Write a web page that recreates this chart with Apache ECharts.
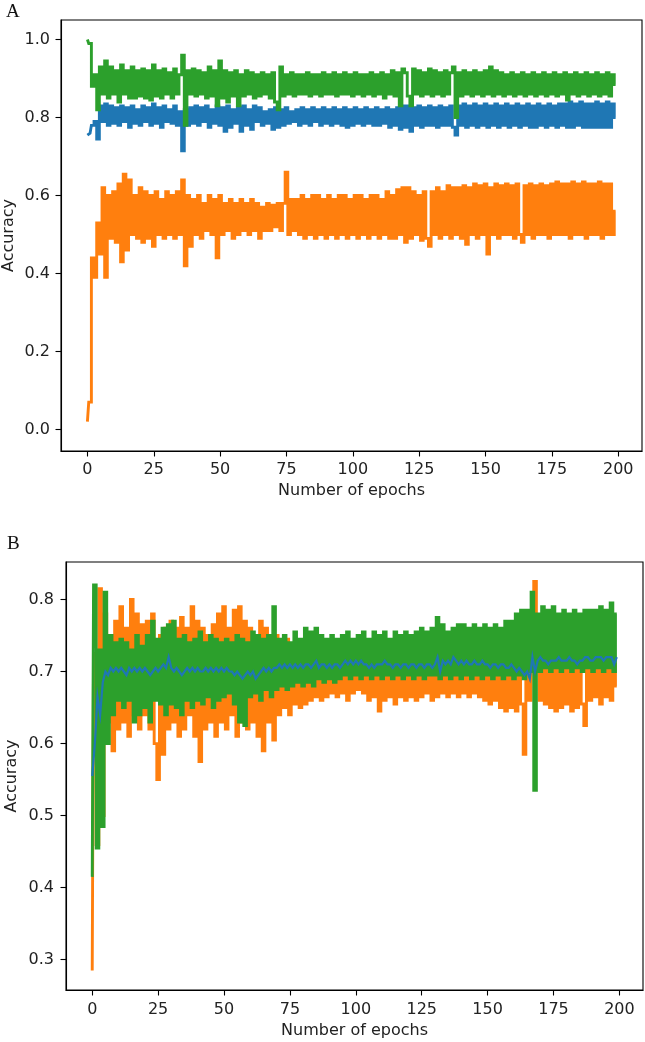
<!DOCTYPE html>
<html><head><meta charset="utf-8">
<script src="https://cdn.jsdelivr.net/npm/echarts@6/dist/echarts.min.js"></script>
<style>html,body{margin:0;padding:0;background:#fff}#c{width:645px;height:1042px}</style>
</head><body><div id="c"></div>
<script>
// ---------- tick labels ----------
const epochTicks = [0, 25, 50, 75, 100, 125, 150, 175, 200];
const yTicksA = [0.0, 0.2, 0.4, 0.6, 0.8, 1.0];
const yTicksB = [0.3, 0.4, 0.5, 0.6, 0.7, 0.8];
const panelLabels = ['A', 'B'];
const xTitle = 'Number of epochs';
const yTitle = 'Accuracy';

// ---------- Panel A (epoch 0..199) ----------
const aBlue = [
0.755,0.76,0.78,0.79,0.745,0.83,0.79,0.835,0.78,0.83,
0.785,0.825,0.78,0.83,0.79,0.825,0.775,0.83,0.785,0.82,
0.78,0.83,0.79,0.825,0.78,0.835,0.785,0.825,0.775,0.83,
0.79,0.82,0.785,0.83,0.78,0.815,0.715,0.82,0.78,0.825,
0.785,0.83,0.78,0.825,0.79,0.83,0.775,0.82,0.785,0.83,
0.78,0.825,0.765,0.83,0.775,0.82,0.785,0.825,0.765,0.83,
0.78,0.82,0.77,0.83,0.79,0.825,0.78,0.815,0.785,0.82,
0.77,0.825,0.775,0.82,0.78,0.825,0.785,0.815,0.79,0.82,
0.78,0.825,0.785,0.82,0.78,0.825,0.79,0.82,0.78,0.825,
0.785,0.82,0.78,0.825,0.785,0.82,0.78,0.825,0.775,0.82,
0.78,0.825,0.785,0.82,0.78,0.825,0.785,0.82,0.78,0.825,
0.78,0.82,0.785,0.825,0.775,0.82,0.78,0.825,0.77,0.83,
0.775,0.83,0.765,0.825,0.78,0.83,0.775,0.825,0.78,0.83,
0.78,0.825,0.775,0.83,0.78,0.825,0.78,0.83,0.775,0.755,
0.83,0.78,0.835,0.775,0.83,0.78,0.835,0.775,0.83,0.78,
0.835,0.775,0.83,0.78,0.835,0.775,0.83,0.78,0.835,0.775,
0.83,0.78,0.835,0.775,0.83,0.78,0.835,0.775,0.83,0.775,
0.835,0.78,0.83,0.775,0.835,0.78,0.83,0.775,0.835,0.78,
0.835,0.775,0.84,0.775,0.835,0.78,0.84,0.775,0.835,0.775,
0.835,0.775,0.84,0.775,0.835,0.775,0.84,0.775,0.835,0.80
];
const aOrange = [
0.02,0.07,0.44,0.39,0.53,0.45,0.62,0.39,0.60,0.49,
0.61,0.48,0.63,0.43,0.655,0.46,0.64,0.50,0.60,0.49,
0.62,0.48,0.61,0.49,0.60,0.47,0.61,0.50,0.59,0.49,
0.61,0.50,0.60,0.49,0.61,0.50,0.64,0.42,0.60,0.47,
0.59,0.50,0.60,0.49,0.58,0.51,0.60,0.50,0.59,0.44,
0.60,0.50,0.58,0.51,0.59,0.49,0.58,0.50,0.59,0.51,
0.58,0.50,0.59,0.51,0.58,0.49,0.57,0.51,0.58,0.51,
0.575,0.52,0.58,0.51,0.58,0.66,0.50,0.59,0.51,0.59,
0.50,0.60,0.49,0.59,0.50,0.60,0.49,0.60,0.50,0.59,
0.49,0.60,0.50,0.59,0.49,0.60,0.50,0.60,0.49,0.59,
0.50,0.60,0.49,0.60,0.50,0.59,0.49,0.60,0.50,0.60,
0.49,0.59,0.50,0.61,0.49,0.60,0.49,0.615,0.50,0.62,
0.48,0.62,0.49,0.61,0.50,0.60,0.485,0.61,0.49,0.47,
0.61,0.50,0.62,0.49,0.61,0.50,0.625,0.49,0.62,0.50,
0.62,0.49,0.625,0.475,0.62,0.50,0.63,0.49,0.625,0.50,
0.63,0.45,0.62,0.50,0.63,0.49,0.625,0.50,0.63,0.50,
0.625,0.49,0.63,0.50,0.48,0.625,0.50,0.63,0.49,0.625,
0.50,0.63,0.50,0.625,0.49,0.63,0.50,0.635,0.50,0.63,
0.50,0.63,0.49,0.635,0.50,0.63,0.50,0.635,0.49,0.63,
0.50,0.63,0.50,0.635,0.49,0.63,0.50,0.63,0.50,0.56
];
const aGreen = [
1.0,0.99,0.88,0.91,0.82,0.93,0.86,0.945,0.85,0.93,
0.86,0.92,0.84,0.935,0.86,0.92,0.85,0.93,0.85,0.92,
0.855,0.925,0.85,0.92,0.845,0.935,0.855,0.92,0.85,0.925,
0.86,0.915,0.85,0.925,0.86,0.91,0.96,0.78,0.92,0.86,
0.925,0.855,0.92,0.86,0.915,0.85,0.93,0.855,0.92,0.83,
0.945,0.85,0.92,0.84,0.915,0.855,0.92,0.83,0.91,0.855,
0.92,0.86,0.915,0.85,0.91,0.855,0.915,0.86,0.91,0.85,
0.915,0.84,0.82,0.93,0.855,0.91,0.86,0.915,0.855,0.91,
0.86,0.91,0.86,0.915,0.855,0.91,0.86,0.91,0.855,0.915,
0.86,0.91,0.86,0.915,0.855,0.91,0.86,0.915,0.86,0.91,
0.855,0.915,0.86,0.91,0.855,0.91,0.86,0.915,0.855,0.91,
0.86,0.915,0.85,0.91,0.86,0.92,0.855,0.915,0.83,0.925,
0.915,0.855,0.83,0.925,0.86,0.92,0.855,0.915,0.86,0.925,
0.855,0.92,0.86,0.915,0.855,0.92,0.86,0.915,0.93,0.80,
0.915,0.855,0.92,0.86,0.915,0.855,0.92,0.86,0.915,0.855,
0.92,0.86,0.93,0.855,0.92,0.86,0.915,0.855,0.91,0.86,
0.915,0.855,0.91,0.86,0.915,0.855,0.91,0.86,0.915,0.855,
0.91,0.86,0.915,0.855,0.91,0.86,0.915,0.855,0.91,0.86,
0.915,0.845,0.91,0.86,0.915,0.855,0.91,0.86,0.915,0.855,
0.91,0.86,0.915,0.855,0.91,0.86,0.915,0.855,0.91,0.885
];

// ---------- Panel B (epoch 0..199) ----------
const bBlue = [
0.555,0.60,0.665,0.64,0.685,0.70,0.695,0.705,0.70,0.705,
0.70,0.705,0.70,0.695,0.705,0.70,0.705,0.70,0.705,0.70,
0.705,0.70,0.695,0.70,0.705,0.70,0.705,0.71,0.705,0.72,
0.705,0.70,0.705,0.70,0.695,0.70,0.705,0.70,0.705,0.70,
0.705,0.70,0.70,0.705,0.70,0.705,0.70,0.705,0.70,0.705,
0.70,0.705,0.70,0.70,0.695,0.70,0.695,0.69,0.695,0.70,
0.695,0.70,0.69,0.695,0.70,0.705,0.70,0.705,0.70,0.705,
0.705,0.71,0.705,0.71,0.705,0.71,0.705,0.71,0.705,0.71,
0.705,0.71,0.71,0.705,0.71,0.715,0.705,0.71,0.71,0.705,
0.71,0.705,0.71,0.71,0.705,0.71,0.715,0.71,0.715,0.71,
0.715,0.71,0.715,0.71,0.71,0.705,0.71,0.705,0.71,0.71,
0.71,0.715,0.71,0.71,0.705,0.71,0.71,0.705,0.71,0.71,
0.705,0.71,0.71,0.705,0.71,0.71,0.705,0.71,0.71,0.705,
0.71,0.72,0.70,0.715,0.71,0.715,0.71,0.72,0.715,0.71,
0.715,0.71,0.715,0.71,0.71,0.715,0.71,0.71,0.715,0.71,
0.71,0.705,0.71,0.71,0.705,0.71,0.71,0.705,0.705,0.71,
0.705,0.70,0.705,0.70,0.695,0.70,0.69,0.72,0.70,0.715,
0.72,0.715,0.715,0.71,0.715,0.715,0.715,0.72,0.715,0.715,
0.715,0.72,0.715,0.715,0.71,0.715,0.715,0.72,0.72,0.715,
0.715,0.72,0.72,0.72,0.715,0.72,0.72,0.72,0.71,0.72
];
const bOrange = [
0.285,0.725,0.46,0.815,0.50,0.78,0.63,0.75,0.59,0.77,
0.62,0.79,0.63,0.76,0.61,0.80,0.64,0.78,0.62,0.765,
0.64,0.77,0.62,0.78,0.60,0.55,0.75,0.585,0.76,0.62,
0.77,0.63,0.76,0.61,0.775,0.62,0.76,0.64,0.79,0.61,
0.77,0.575,0.76,0.62,0.75,0.63,0.765,0.61,0.78,0.63,
0.79,0.62,0.76,0.64,0.785,0.61,0.79,0.63,0.77,0.62,
0.76,0.63,0.75,0.61,0.77,0.59,0.76,0.63,0.745,0.605,
0.75,0.64,0.74,0.65,0.745,0.64,0.735,0.655,0.74,0.65,
0.73,0.655,0.735,0.66,0.725,0.665,0.73,0.66,0.72,0.665,
0.715,0.67,0.72,0.665,0.71,0.67,0.715,0.66,0.71,0.67,
0.71,0.675,0.715,0.67,0.71,0.66,0.715,0.665,0.71,0.645,
0.71,0.66,0.715,0.665,0.71,0.655,0.715,0.665,0.71,0.66,
0.715,0.665,0.71,0.66,0.715,0.665,0.71,0.67,0.715,0.66,
0.71,0.665,0.715,0.67,0.705,0.665,0.715,0.67,0.71,0.665,
0.715,0.67,0.71,0.665,0.715,0.67,0.71,0.665,0.715,0.66,
0.71,0.655,0.715,0.66,0.71,0.65,0.715,0.645,0.71,0.65,
0.715,0.645,0.71,0.655,0.585,0.71,0.66,0.705,0.825,0.70,
0.66,0.715,0.655,0.71,0.65,0.715,0.645,0.71,0.65,0.715,
0.655,0.71,0.645,0.715,0.65,0.71,0.655,0.625,0.715,0.66,
0.71,0.665,0.715,0.655,0.71,0.665,0.715,0.66,0.71,0.68
];
const bGreen = [
0.415,0.82,0.455,0.73,0.485,0.81,0.60,0.75,0.64,0.74,
0.66,0.745,0.65,0.74,0.66,0.73,0.63,0.75,0.64,0.735,
0.65,0.75,0.63,0.77,0.66,0.745,0.655,0.76,0.64,0.765,
0.655,0.77,0.65,0.745,0.64,0.75,0.66,0.74,0.65,0.745,
0.66,0.755,0.655,0.74,0.665,0.75,0.65,0.745,0.66,0.74,
0.665,0.745,0.67,0.74,0.655,0.75,0.63,0.745,0.625,0.74,
0.665,0.755,0.67,0.75,0.66,0.745,0.675,0.75,0.665,0.79,
0.675,0.745,0.68,0.75,0.675,0.74,0.68,0.755,0.685,0.745,
0.68,0.76,0.685,0.755,0.68,0.76,0.69,0.75,0.685,0.745,
0.69,0.75,0.685,0.745,0.69,0.75,0.695,0.755,0.69,0.745,
0.695,0.75,0.69,0.755,0.695,0.745,0.69,0.755,0.695,0.75,
0.69,0.755,0.695,0.745,0.69,0.755,0.695,0.75,0.69,0.755,
0.695,0.75,0.69,0.755,0.695,0.76,0.69,0.755,0.695,0.76,
0.695,0.775,0.69,0.765,0.695,0.755,0.69,0.76,0.695,0.765,
0.69,0.765,0.695,0.76,0.69,0.765,0.695,0.76,0.69,0.765,
0.695,0.76,0.69,0.765,0.695,0.76,0.69,0.77,0.695,0.77,
0.69,0.78,0.695,0.785,0.69,0.785,0.70,0.81,0.535,0.78,
0.70,0.79,0.705,0.785,0.70,0.79,0.705,0.78,0.70,0.785,
0.705,0.78,0.70,0.785,0.705,0.78,0.70,0.785,0.705,0.785,
0.70,0.785,0.705,0.79,0.70,0.785,0.705,0.795,0.70,0.78
];

const C_BLUE = '#1f77b4', C_ORANGE = '#ff7f0e', C_GREEN = '#2ca02c';
const FONT = 'DejaVu Sans';
const toXY = arr => arr.map((v, i) => [i, v]);

function xAxisFor(gi, lm, ng) {
  return {
    gridIndex: gi, type: 'value', min: -9.95, max: 208.95,
    splitLine: { show: false },
    axisLine: { show: true, onZero: false, lineStyle: { color: '#000', width: 1.1 } },
    axisTick: { show: true, customValues: epochTicks, length: 5.5, lineStyle: { color: '#000', width: 1.1 } },
    axisLabel: { customValues: epochTicks, fontSize: 16, fontFamily: FONT, color: '#222', margin: lm },
    name: xTitle, nameLocation: 'middle', nameGap: ng,
    nameTextStyle: { fontSize: 16, fontFamily: FONT, color: '#222' }
  };
}
function yAxisFor(gi, min, max, ticks, margin, gap) {
  return {
    gridIndex: gi, type: 'value', min: min, max: max,
    splitLine: { show: false },
    axisLine: { show: true, onZero: false, lineStyle: { color: '#000', width: 1.1 } },
    axisTick: { show: true, customValues: ticks, length: 5.5, lineStyle: { color: '#000', width: 1.1 } },
    axisLabel: { customValues: ticks, fontSize: 16, fontFamily: FONT, color: '#222', margin: margin,
                 formatter: v => Number(v).toFixed(1) },
    name: yTitle, nameLocation: 'middle', nameGap: gap, nameRotate: 90, nameMoveOverlap: false,
    nameTextStyle: { fontSize: 16, fontFamily: FONT, color: '#222' }
  };
}
function line(name, data, color, xi, stepped, w, z) {
  return {
    name: name, type: 'line', xAxisIndex: xi, yAxisIndex: xi, data: toXY(data),
    step: stepped ? 'middle' : false, symbol: 'none', showSymbol: false,
    lineStyle: { color: color, width: w, join: 'miter', cap: 'butt' }, itemStyle: { color: color },
    animation: false, z: z, clip: true
  };
}

const chart = echarts.init(document.getElementById('c'), null, { renderer: 'canvas' });
chart.setOption({
  animation: false,
  backgroundColor: '#fff',
  grid: [
    { left: 61, top: 20, width: 581, height: 431, show: true, borderColor: '#000', borderWidth: 1.1,
      containLabel: false, outerBoundsMode: 'none' },
    { left: 66, top: 562, width: 577, height: 428, show: true, borderColor: '#000', borderWidth: 1.1,
      containLabel: false, outerBoundsMode: 'none' }
  ],
  xAxis: [xAxisFor(0, 11, 32), xAxisFor(1, 12, 33)],
  yAxis: [
    yAxisFor(0, -0.05525, 1.05025, yTicksA, 11, 44),
    yAxisFor(1, 0.258, 0.852, yTicksB, 12, 46)
  ],
  graphic: [
    { type: 'text', left: 6, top: 3, style: { text: panelLabels[0], font: '19px "Liberation Serif"', fill: '#111' } },
    { type: 'text', left: 7, top: 535, style: { text: panelLabels[1], font: '19px "Liberation Serif"', fill: '#111' } }
  ],
  series: [
    line('A blue', aBlue, C_BLUE, 0, true, 2.9, 2),
    line('A orange', aOrange, C_ORANGE, 0, true, 2.9, 3),
    line('A green', aGreen, C_GREEN, 0, true, 2.9, 4),
    line('B orange', bOrange, C_ORANGE, 1, true, 2.9, 2),
    line('B green', bGreen, C_GREEN, 1, true, 2.9, 3),
    line('B blue', bBlue, C_BLUE, 1, false, 2.2, 4)
  ]
});
</script>
</body></html>
